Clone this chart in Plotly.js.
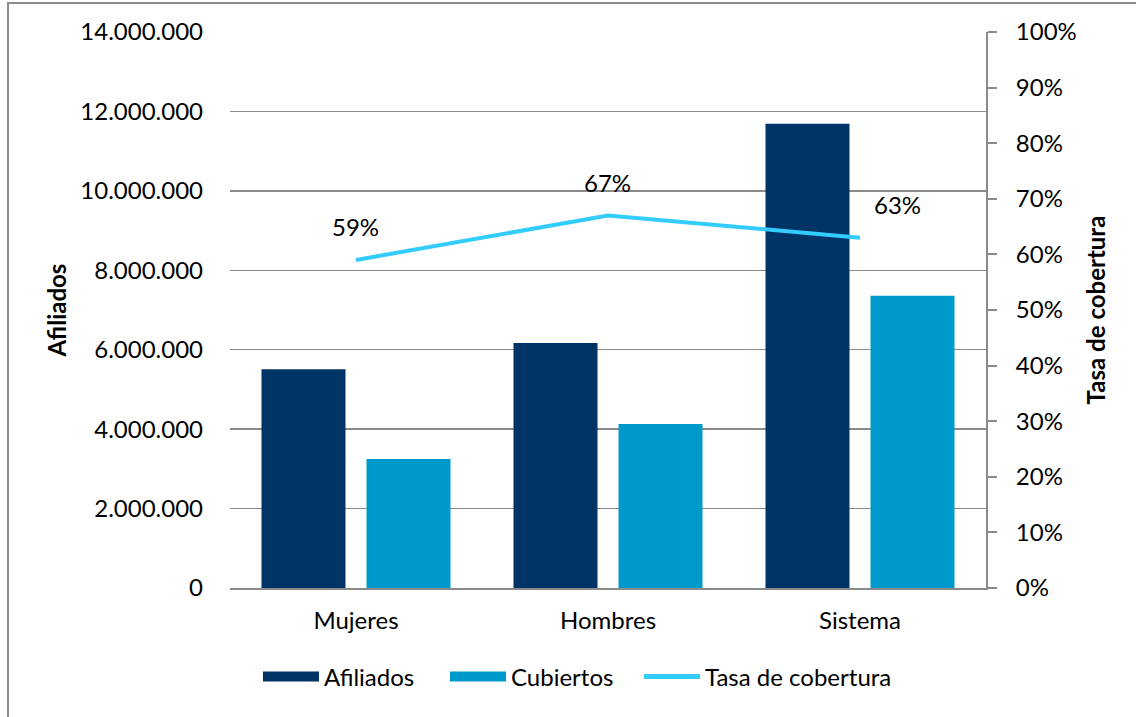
<!DOCTYPE html>
<html>
<head>
<meta charset="utf-8">
<script src="https://cdn.plot.ly/plotly-3.0.1.min.js"></script>
<style>
  html, body { margin: 0; padding: 0; background: #fff; overflow: hidden; }
  #chart { position: absolute; left: 0; top: 0; width: 1136px; height: 717px; }
  #frame { position: absolute; left: 7px; top: 2px; width: 1200px; height: 800px;
           border-left: 2px solid #8c8c8c; border-top: 2px solid #8c8c8c; pointer-events: none; }
</style>
</head>
<body>
<div id="chart"></div>
<div id="frame"></div>
<script>
const categories = ["Mujeres", "Hombres", "Sistema"];
const afiliados = [5510000, 6170000, 11690000];
const cubiertos = [3250000, 4130000, 7360000];
const tasa = [0.59, 0.67, 0.63];
const tasaLabels = ["59%", "67%", "63%"];

const FONT = "Lato, 'Open Sans', sans-serif";
const GRID = "#8a8a8a";
const C_AFI = "#003366", C_CUB = "#0099CC", C_TASA = "#33CCFF";

const traces = [
  { type: "bar", name: "Afiliados", x: categories, y: afiliados, showlegend: false,
    marker: { color: C_AFI }, hoverinfo: "none" },
  { type: "bar", name: "Cubiertos", x: categories, y: cubiertos, showlegend: false,
    marker: { color: C_CUB }, hoverinfo: "none" },
  { type: "scatter", mode: "lines", name: "Tasa de cobertura", x: categories, y: tasa,
    yaxis: "y2", line: { color: C_TASA, width: 4 }, hoverinfo: "none", showlegend: false },
  // legend-only entries (wide swatches like the original)
  { type: "scatter", mode: "lines", name: "Afiliados", x: [null], y: [null], legend: "legend",
    line: { color: C_AFI, width: 15 }, hoverinfo: "none" },
  { type: "scatter", mode: "lines", name: "Cubiertos", x: [null], y: [null], legend: "legend2",
    line: { color: C_CUB, width: 15 }, hoverinfo: "none" },
  { type: "scatter", mode: "lines", name: "Tasa de cobertura", x: [null], y: [null], legend: "legend3",
    yaxis: "y2", line: { color: C_TASA, width: 5 }, hoverinfo: "none" }
];

const labelShifts = [[-1, 33], [-1, 33], [37, 33]];
const annotations = categories.map((c, i) => ({
  x: c, y: tasa[i], xref: "x", yref: "y2", text: tasaLabels[i],
  showarrow: false, xshift: labelShifts[i][0], yshift: labelShifts[i][1],
  font: { family: FONT, size: 24, color: "#000" }
}));

function legendAt(x) {
  return { orientation: "h", x: x, xanchor: "left", y: -0.16, yanchor: "middle",
           font: { family: FONT, size: 24, color: "#000" }, itemwidth: 56,
           bgcolor: "rgba(0,0,0,0)" };
}

const layout = {
  width: 1136, height: 717,
  margin: { l: 230, r: 150, t: 32, b: 129 },
  paper_bgcolor: "#fff", plot_bgcolor: "#fff",
  separators: ",.",
  font: { family: FONT, size: 24, color: "#000" },
  barmode: "group", bargap: 0.1667, bargroupgap: 0.2,
  showlegend: true,
  legend: legendAt(0.037),
  legend2: legendAt(0.2844),
  legend3: legendAt(0.541),
  xaxis: { type: "category", showline: true, linecolor: GRID, linewidth: 2, ticks: "",
           ticklabelstandoff: 10, tickfont: { family: FONT, size: 24 }, showgrid: false },
  yaxis: { range: [0, 14000000], dtick: 2000000, tickformat: ",d", showgrid: true,
           gridcolor: GRID, gridwidth: 1.5, zeroline: false, showline: false, ticks: "",
           ticklabelstandoff: 26, automargin: true,
           title: { text: "<b>Afiliados</b>", font: { family: FONT, size: 24 }, standoff: 6 } },
  yaxis2: { overlaying: "y", side: "right", range: [0, 1], dtick: 0.1, tickformat: ".0%",
            showgrid: false, zeroline: false, showline: true, linecolor: GRID, linewidth: 2,
            ticks: "outside", ticklen: 9, tickwidth: 2, tickcolor: GRID, ticklabelstandoff: 14,
            automargin: true,
            title: { text: "<b>Tasa de cobertura</b>", font: { family: FONT, size: 24 }, standoff: 12 } },
  annotations: annotations
};

Plotly.newPlot("chart", traces, layout, { staticPlot: true, displayModeBar: false });
</script>
</body>
</html>
